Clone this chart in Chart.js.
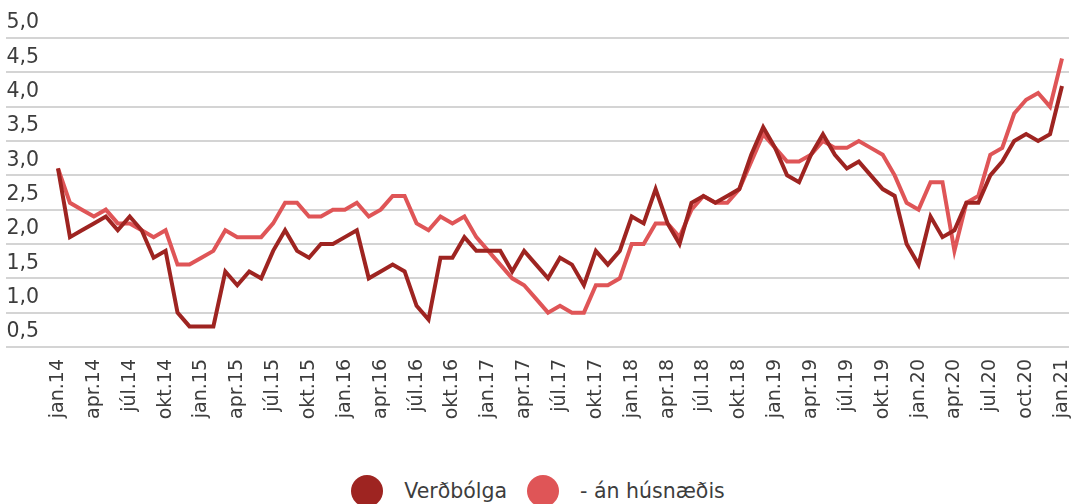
<!DOCTYPE html>
<html>
<head>
<meta charset="utf-8">
<script src="https://cdn.jsdelivr.net/npm/chart.js@4.4.1/dist/chart.umd.min.js"></script>
<style>
  body { margin: 0; background: #fff; }
  #wrap { position: relative; width: 1076px; height: 504px; overflow: hidden; }
  #legend {
    position: absolute; left: 0; top: 475px; width: 1076px; height: 32px;
    display: flex; justify-content: center; align-items: center;
    font-family: "DejaVu Sans", sans-serif; font-size: 20.5px; color: #3d3d3d;
  }
  #legend .item { display: flex; align-items: center; margin: 0 10px; }
  #legend .dot { width: 32px; height: 32px; border-radius: 50%; margin-right: 21px; }
</style>
</head>
<body>
<div id="wrap">
  <canvas id="chart" width="1076" height="430"></canvas>
  <div id="legend"></div>
</div>
<script>
// categories (monthly, jan.14 - jan.21)
const labels = [
  'jan.14', 'feb.14', 'mar.14', 'apr.14', 'maí.14', 'jún.14', 'júl.14', 'ágú.14', 'sep.14', 'okt.14', 'nóv.14', 'des.14',
  'jan.15', 'feb.15', 'mar.15', 'apr.15', 'maí.15', 'jún.15', 'júl.15', 'ágú.15', 'sep.15', 'okt.15', 'nóv.15', 'des.15',
  'jan.16', 'feb.16', 'mar.16', 'apr.16', 'maí.16', 'jún.16', 'júl.16', 'ágú.16', 'sep.16', 'okt.16', 'nóv.16', 'des.16',
  'jan.17', 'feb.17', 'mar.17', 'apr.17', 'maí.17', 'jún.17', 'júl.17', 'ágú.17', 'sep.17', 'okt.17', 'nóv.17', 'des.17',
  'jan.18', 'feb.18', 'mar.18', 'apr.18', 'maí.18', 'jún.18', 'júl.18', 'ágú.18', 'sep.18', 'okt.18', 'nóv.18', 'des.18',
  'jan.19', 'feb.19', 'mar.19', 'apr.19', 'maí.19', 'jún.19', 'júl.19', 'ágú.19', 'sep.19', 'okt.19', 'nóv.19', 'des.19',
  'jan.20', 'feb.20', 'mar.20', 'apr.20', 'maí.20', 'jún.20', 'jul.20', 'ágú.20', 'sep.20', 'oct.20', 'nóv.20', 'des.20',
  'jan.21'
];

// Verðbólga
const inflation = [
  3.1, 2.1, 2.2, 2.3, 2.4, 2.2, 2.4, 2.2, 1.8, 1.9, 1.0, 0.8,
  0.8, 0.8, 1.6, 1.4, 1.6, 1.5, 1.9, 2.2, 1.9, 1.8, 2.0, 2.0,
  2.1, 2.2, 1.5, 1.6, 1.7, 1.6, 1.1, 0.9, 1.8, 1.8, 2.1, 1.9,
  1.9, 1.9, 1.6, 1.9, 1.7, 1.5, 1.8, 1.7, 1.4, 1.9, 1.7, 1.9,
  2.4, 2.3, 2.8, 2.3, 2.0, 2.6, 2.7, 2.6, 2.7, 2.8, 3.3, 3.7,
  3.4, 3.0, 2.9, 3.3, 3.6, 3.3, 3.1, 3.2, 3.0, 2.8, 2.7, 2.0,
  1.7, 2.4, 2.1, 2.2, 2.6, 2.6, 3.0, 3.2, 3.5, 3.6, 3.5, 3.6,
  4.3
];

// - án húsnæðis
const exHousing = [
  3.1, 2.6, 2.5, 2.4, 2.5, 2.3, 2.3, 2.2, 2.1, 2.2, 1.7, 1.7,
  1.8, 1.9, 2.2, 2.1, 2.1, 2.1, 2.3, 2.6, 2.6, 2.4, 2.4, 2.5,
  2.5, 2.6, 2.4, 2.5, 2.7, 2.7, 2.3, 2.2, 2.4, 2.3, 2.4, 2.1,
  1.9, 1.7, 1.5, 1.4, 1.2, 1.0, 1.1, 1.0, 1.0, 1.4, 1.4, 1.5,
  2.0, 2.0, 2.3, 2.3, 2.1, 2.5, 2.7, 2.6, 2.6, 2.8, 3.2, 3.6,
  3.4, 3.2, 3.2, 3.3, 3.5, 3.4, 3.4, 3.5, 3.4, 3.3, 3.0, 2.6,
  2.5, 2.9, 2.9, 1.9, 2.6, 2.7, 3.3, 3.4, 3.9, 4.1, 4.2, 4.0,
  4.7
];

const yMin = 0.5;
const yMax = 5.0;
const yStep = 0.5;

const darkRed = '#9e2421';
const lightRed = '#df5557';
const gridColor = '#d4d4d4';
const textColor = '#3d3d3d';

// horizontal grid lines run under the y labels too
const wideGrid = {
  id: 'wideGrid',
  beforeDatasetsDraw(chart) {
    const ctx = chart.ctx;
    const y = chart.scales.y;
    ctx.save();
    ctx.strokeStyle = gridColor;
    ctx.lineWidth = 2;
    y.ticks.forEach(function(t) {
      const py = Math.round(y.getPixelForValue(t.value));
      ctx.beginPath();
      ctx.moveTo(6, py);
      ctx.lineTo(chart.chartArea.right + 7, py);
      ctx.stroke();
    });
    ctx.restore();
  }
};

const chart = new Chart(document.getElementById('chart'), {
  type: 'line',
  data: {
    labels: labels,
    datasets: [{
      label: 'Verðbólga',
      data: inflation,
      borderColor: darkRed,
      backgroundColor: darkRed,
      borderWidth: 4,
      pointRadius: 0,
      tension: 0
    }, {
      label: '- án húsnæðis',
      data: exHousing,
      borderColor: lightRed,
      backgroundColor: lightRed,
      borderWidth: 4,
      pointRadius: 0,
      tension: 0
    }]
  },
  options: {
    responsive: false,
    animation: false,
    layout: {
      padding: { top: 38, left: 6, right: 14, bottom: 0 }
    },
    plugins: {
      legend: { display: false },
      tooltip: { enabled: false }
    },
    scales: {
      x: {
        grid: { display: false, drawTicks: false },
        border: { display: false },
        ticks: {
          autoSkip: false,
          minRotation: 90,
          maxRotation: 90,
          padding: 12,
          color: textColor,
          font: { family: 'DejaVu Sans', size: 19 },
          callback: function(value, index) {
            return index % 3 === 0 ? labels[index] : null;
          }
        },
        afterFit: function(scale) {
          scale.height = 83;
          scale.paddingLeft = 0;
          scale.paddingRight = 0;
        }
      },
      y: {
        min: yMin,
        max: yMax,
        grid: { display: false, drawTicks: false },
        border: { display: false },
        ticks: {
          stepSize: yStep,
          padding: 19,
          labelOffset: -15,
          color: textColor,
          font: { family: 'DejaVu Sans', size: 20.5 },
          callback: function(value) {
            return value.toFixed(1).replace('.', ',');
          }
        },
        afterFit: function(scale) { scale.width = 52; }
      }
    }
  },
  plugins: [wideGrid]
});

// legend under the chart
const legendBox = document.getElementById('legend');
chart.data.datasets.forEach(function(ds) {
  const item = document.createElement('div');
  item.className = 'item';
  const dot = document.createElement('span');
  dot.className = 'dot';
  dot.style.background = ds.borderColor;
  const txt = document.createElement('span');
  txt.textContent = ds.label;
  item.appendChild(dot);
  item.appendChild(txt);
  legendBox.appendChild(item);
});
</script>
</body>
</html>
